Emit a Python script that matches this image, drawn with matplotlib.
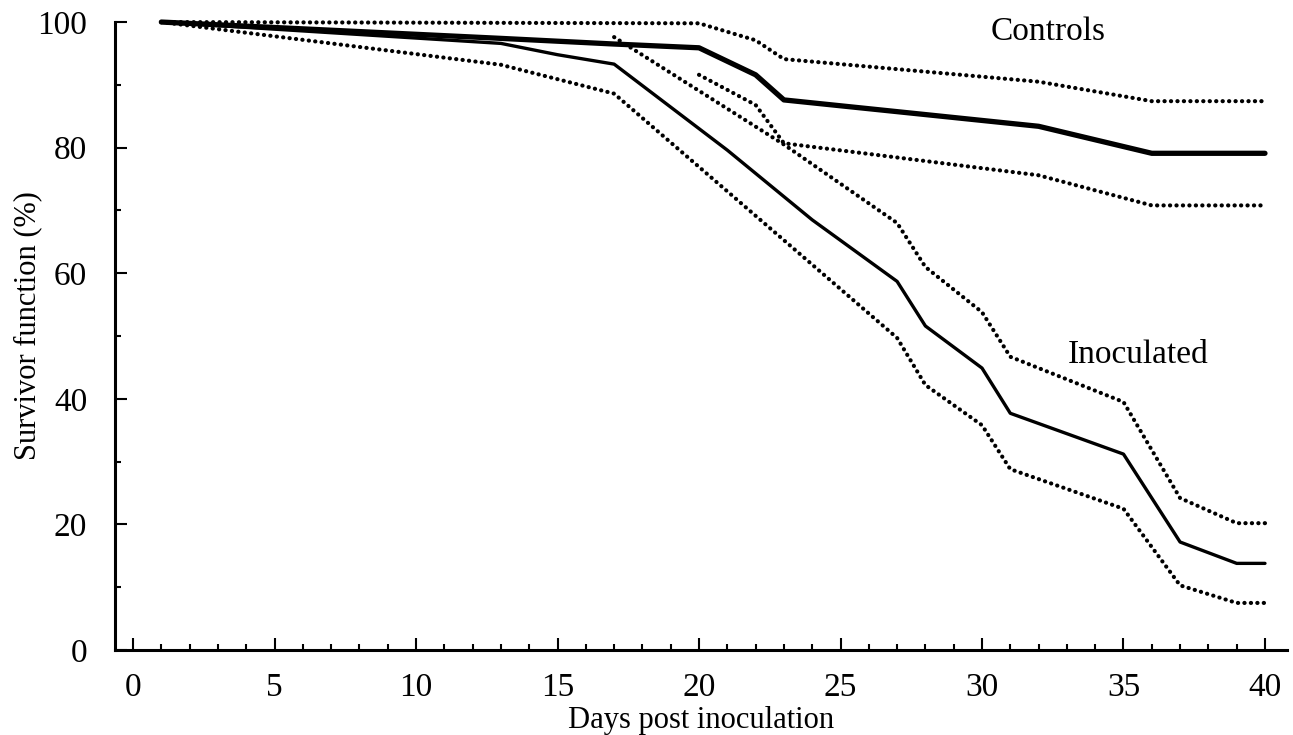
import matplotlib
matplotlib.use("Agg")
import matplotlib.pyplot as plt
from matplotlib.ticker import MultipleLocator

plt.rcParams['font.family'] = ['Liberation Serif', 'DejaVu Serif']

# Kaplan-Meier survivor estimates with 95% bounds, read per day
ctrl_days = [1, 13, 17, 20, 22, 23, 32, 36, 40]
ctrl_surv = [100, 97.4, 96.5, 95.9, 91.6, 87.6, 83.4, 79.1, 79.1]

ctrl_hi_days = [1, 20, 22, 23, 32, 36, 40]
ctrl_hi = [100, 99.8, 97.1, 94.1, 90.5, 87.4, 87.4]

ctrl_lo_days = [20, 22, 23, 32, 36, 40]
ctrl_lo = [91.6, 86.8, 80.7, 75.6, 70.8, 70.8]

inoc_days = [1, 13, 15, 17, 21, 24, 27, 28, 30, 31, 35, 37, 39, 40]
inoc_surv = [100, 96.6, 94.8, 93.3, 79.6, 68.5, 58.7, 51.6, 44.9, 37.7, 31.2, 17.2, 13.8, 13.8]

inoc_hi_days = [17, 23, 27, 28, 30, 31, 35, 37, 39, 40]
inoc_hi = [97.6, 80.5, 68.0, 61.0, 53.8, 46.7, 39.5, 24.2, 20.2, 20.2]

inoc_lo_days = [1, 13, 17, 27, 28, 30, 31, 35, 37, 39, 40]
inoc_lo = [100, 93.2, 88.6, 49.7, 42.2, 35.8, 28.8, 22.5, 10.3, 7.5, 7.5]

fig = plt.figure(figsize=(12.93, 7.35), dpi=100)
ax = fig.add_axes([0.0889, 0.1156, 0.9065, 0.8544])

dot = dict(color='black', lw=3.0, linestyle=(0, (0.05, 1.5)),
           dash_capstyle='round', clip_on=False)

ax.plot(ctrl_days, ctrl_surv, color='black', lw=3.8, solid_capstyle='round', clip_on=False)
ax.plot(ctrl_hi_days, ctrl_hi, **dot)
ax.plot(ctrl_lo_days, ctrl_lo, **dot)

ax.plot(inoc_days, inoc_surv, color='black', lw=2.4, solid_capstyle='round', clip_on=False)
ax.plot(inoc_hi_days, inoc_hi, **dot)
ax.plot(inoc_lo_days, inoc_lo, **dot)

ax.text(32.35, 98.4, 'Controls', fontsize=24, ha='center', va='center')
ax.text(35.5, 47, 'Inoculated', fontsize=24, ha='center', va='center')

ax.set_xlim(-0.64, 40.78)
ax.set_ylim(0, 100)
ax.xaxis.set_major_locator(MultipleLocator(5))
ax.xaxis.set_minor_locator(MultipleLocator(1))
ax.yaxis.set_major_locator(MultipleLocator(20))
ax.yaxis.set_minor_locator(MultipleLocator(10))

for s in ['top', 'right']:
    ax.spines[s].set_visible(False)
for s in ['left', 'bottom']:
    ax.spines[s].set_linewidth(2.2)

ax.tick_params(which='both', direction='in', width=1.5, labelsize=24)
ax.tick_params(axis='x', which='major', length=8.5, pad=16.5)
ax.tick_params(axis='x', which='minor', length=4)
ax.tick_params(axis='y', which='major', length=8.5, pad=20)
ax.tick_params(axis='y', which='minor', length=4)

ax.set_xlabel('Days post inoculation', fontsize=22, labelpad=2)
ax.set_ylabel('Survivor function (%)', fontsize=22, labelpad=-3.5)
ax.yaxis.label.set_y(0.517)

fig.savefig('out.png', dpi=100)
